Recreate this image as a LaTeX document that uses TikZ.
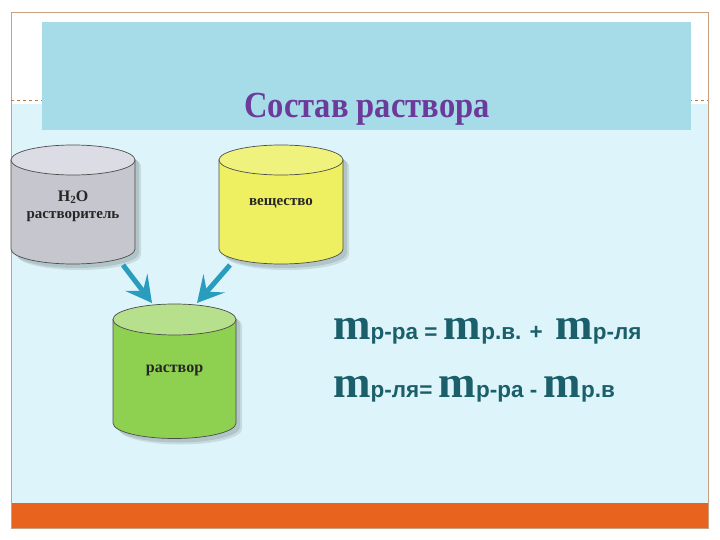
\documentclass[tikz,border=0pt]{standalone}
\usepackage{fontspec}
\setmainfont{Liberation Serif}
\newfontfamily\subfont{Liberation Sans}
\usetikzlibrary{arrows.meta}
\definecolor{bgcyan}{HTML}{DDF5FA}
\definecolor{orangebar}{HTML}{E8641E}
\definecolor{framecol}{HTML}{C8A082}
\definecolor{dashcol}{HTML}{B87848}
\definecolor{titlebox}{HTML}{A6DCE8}
\definecolor{titlecol}{HTML}{6B3A9A}
\definecolor{formcol}{HTML}{1B5F6B}
\definecolor{arrowcol}{HTML}{2A9DBF}
\definecolor{graybody}{HTML}{C6C6CE}
\definecolor{graytop}{HTML}{DCDCE4}
\definecolor{yelbody}{HTML}{EEF062}
\definecolor{yeltop}{HTML}{F0F27E}
\definecolor{grnbody}{HTML}{8ED150}
\definecolor{grntop}{HTML}{B6E08C}
\newcommand\cylshape[5]{(#1-#2,#3) -- (#1-#2,#4) arc[start angle=180,end angle=0,x radius=#2,y radius=#5] -- (#1+#2,#3) arc[start angle=0,end angle=-180,x radius=#2,y radius=#5] -- cycle}
\newcommand\cylbody[5]{(#1-#2,#3) -- (#1-#2,#4) arc[start angle=180,end angle=0,x radius=#2,y radius=#5] -- (#1+#2,#3) -- cycle}
% cx rx T B ry bodycolor topcolor
\newcommand\mycyl[7]{%
  \fill[black,opacity=0.10] [shift={(6,6)}] \cylshape{#1}{#2}{#3}{#4}{#5};
  \fill[black,opacity=0.10] [shift={(4,4)}] \cylshape{#1}{#2}{#3}{#4}{#5};
  \filldraw[cyledge, fill=#6] \cylbody{#1}{#2}{#3}{#4}{#5};
  \filldraw[cyledge, fill=#7] (#1,#3) ellipse[x radius=#2, y radius=#5];
}
\begin{document}
\begin{tikzpicture}[x=1pt,y=-1pt,
  cyledge/.style={draw=black!70, line width=0.7pt},
  cyltext/.style={font=\bfseries\fontsize{16}{18}\selectfont, align=center, text=black!85},
  flow/.style={draw=arrowcol, line width=5pt, -{Stealth[length=26pt,width=28pt,inset=11pt]}},
  formula/.style={anchor=base west, text=formcol, inner sep=0pt},
]
\useasboundingbox (0,0) rectangle (720,540);
\fill[white] (0,0) rectangle (720,540);
\fill[bgcyan] (11,104) rectangle (708,503);
\fill[orangebar] (11,503) rectangle (708,528);
\draw[framecol, line width=0.8pt] (11,12) rectangle (708,528);
\draw[dashcol, dashed, line width=0.6pt] (11,100) -- (708,100);
\fill[titlebox] (42,22) rectangle (691,130);
\node[anchor=base, text=titlecol, inner sep=0pt] (title) at (367,118)
  {\scalebox{0.93}[1.05]{\bfseries\fontsize{35}{40}\selectfont Состав раствора}};

\mycyl{73}{62}{160}{249}{15}{graybody}{graytop}
\mycyl{281}{62}{160}{249}{15}{yelbody}{yeltop}
\mycyl{174.5}{61.5}{319.5}{423}{15.5}{grnbody}{grntop}

\node[cyltext] (solvent) at (73,206) {H{\fontsize{11}{11}\selectfont\raisebox{-2pt}{2}}O\\[-1pt]{\fontsize{15}{17}\selectfont растворитель}};
\node[cyltext, font=\bfseries\fontsize{15}{17}\selectfont] (substance) at (281,203) {вещество};
\node[cyltext] (solution) at (174.5,370) {раствор};

\coordinate (gout) at (123,265);
\coordinate (gin) at (152,303);
\coordinate (yout) at (230,265);
\coordinate (yin) at (197,303);
\draw[flow] (gout) -- (gin);
\draw[flow] (yout) -- (yin);

\newcommand\bm{{\fontsize{45}{45}\selectfont m}}
\newcommand\sub[1]{{\subfont\bfseries\fontsize{22.5}{22.5}\selectfont #1}}
\node[formula] (f1) at (333,339) {\bfseries\bm\sub{р-ра = }\bm\sub{р.в. +\ \ }\bm\sub{р-ля}};
\node[formula] (f2) at (333,397) {\bfseries\bm\sub{р-ля= }\bm\sub{р-ра - }\bm\sub{р.в}};
\end{tikzpicture}
\end{document}
